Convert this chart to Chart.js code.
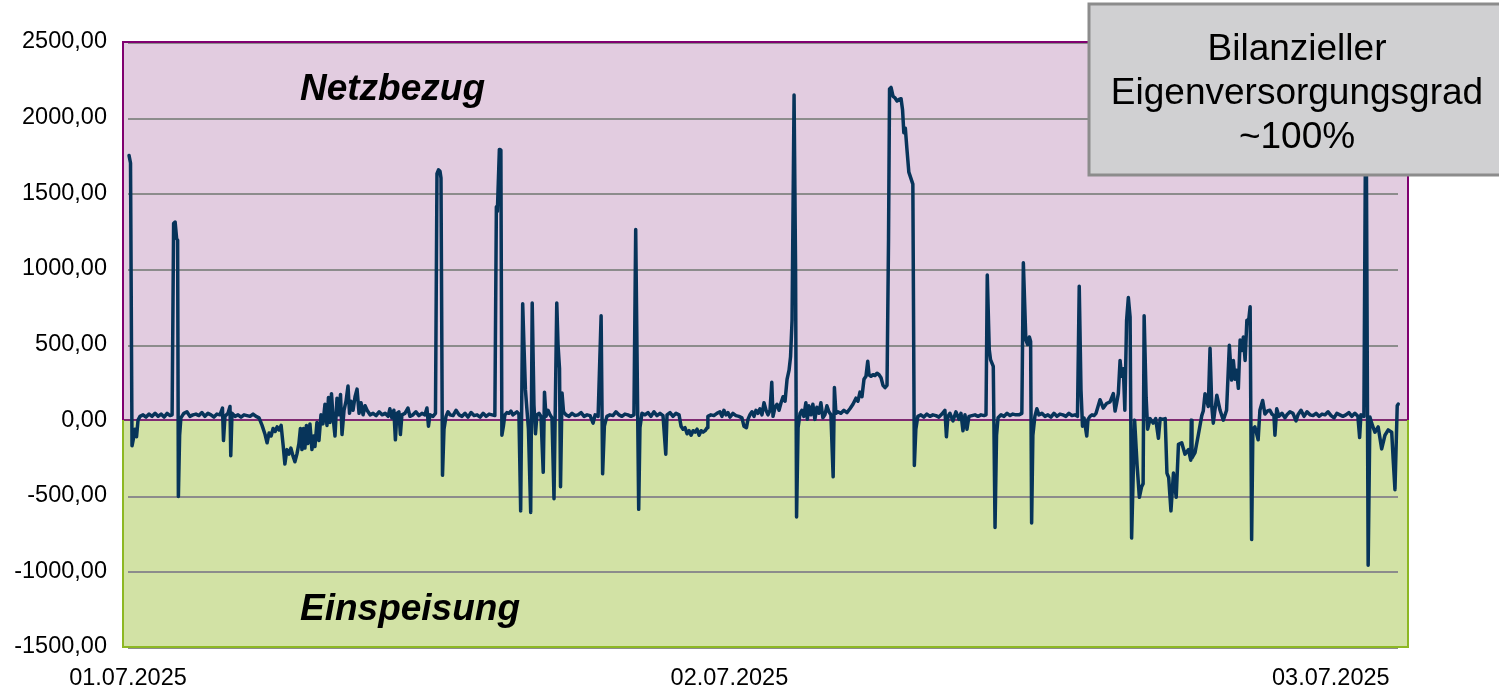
<!DOCTYPE html>
<html lang="de">
<head>
<meta charset="UTF-8">
<title>Netzbezug / Einspeisung</title>
<script src="https://cdn.jsdelivr.net/npm/chart.js"></script>
<style>
    html, body { margin: 0; padding: 0; background: #fff; }
    #wrap { position: relative; width: 1499px; height: 689px; }
</style>
</head>
<body>
<div id="wrap"><canvas id="chart" width="1499" height="689"></canvas></div>
<script>
// Stunden ab 01.07.2025 00:00 und Leistung am Netzanschlusspunkt (W)
const hours = [
    0.04, 0.10, 0.16, 0.22, 0.28, 0.34, 0.40, 0.48, 0.60, 0.72, 0.84, 0.96, 1.08, 1.20, 1.32, 1.44, 1.56, 1.68, 1.76, 1.82,
    1.88, 1.94, 1.98, 2.01, 2.06, 2.11, 2.23, 2.35, 2.47, 2.59, 2.71, 2.83, 2.95, 3.07, 3.19, 3.31, 3.43, 3.55, 3.67, 3.77,
    3.81, 3.87, 3.99, 4.07, 4.10, 4.15, 4.27, 4.39, 4.51, 4.63, 4.75, 4.87, 4.99, 5.11, 5.23, 5.35, 5.47, 5.55, 5.63, 5.71,
    5.79, 5.87, 5.95, 6.03, 6.11, 6.19, 6.26, 6.34, 6.42, 6.50, 6.58, 6.66, 6.74, 6.82, 6.88, 6.94, 7.00, 7.06, 7.12, 7.18,
    7.26, 7.34, 7.40, 7.46, 7.54, 7.62, 7.70, 7.78, 7.86, 7.94, 8.00, 8.06, 8.12, 8.18, 8.26, 8.34, 8.42, 8.48, 8.54, 8.62,
    8.70, 8.78, 8.84, 8.90, 8.98, 9.06, 9.14, 9.22, 9.30, 9.38, 9.46, 9.54, 9.66, 9.78, 9.90, 10.02, 10.14, 10.26, 10.38, 10.45,
    10.53, 10.61, 10.67, 10.73, 10.81, 10.87, 10.93, 11.05, 11.17, 11.25, 11.37, 11.49, 11.61, 11.73, 11.85, 11.93, 11.99, 12.05, 12.17, 12.27,
    12.33, 12.39, 12.45, 12.49, 12.55, 12.61, 12.69, 12.77, 12.85, 12.97, 13.09, 13.21, 13.33, 13.45, 13.57, 13.69, 13.81, 13.93, 14.05, 14.17,
    14.29, 14.41, 14.53, 14.64, 14.70, 14.74, 14.82, 14.88, 14.92, 14.98, 15.04, 15.12, 15.20, 15.28, 15.36, 15.44, 15.52, 15.60, 15.67, 15.75,
    15.80, 15.86, 15.92, 15.98, 16.07, 16.13, 16.20, 16.26, 16.32, 16.40, 16.48, 16.57, 16.62, 16.68, 16.76, 16.84, 16.92, 17.00, 17.11, 17.16,
    17.22, 17.26, 17.32, 17.38, 17.48, 17.60, 17.72, 17.84, 17.96, 18.08, 18.20, 18.32, 18.44, 18.56, 18.64, 18.76, 18.88, 18.94, 19.01, 19.11,
    19.23, 19.35, 19.47, 19.59, 19.71, 19.83, 19.95, 20.07, 20.19, 20.26, 20.38, 20.43, 20.51, 20.63, 20.75, 20.87, 20.99, 21.11, 21.23, 21.35,
    21.46, 21.51, 21.63, 21.75, 21.87, 21.99, 22.07, 22.15, 22.23, 22.31, 22.39, 22.47, 22.55, 22.63, 22.71, 22.79, 22.87, 22.95, 23.03, 23.11,
    23.14, 23.26, 23.38, 23.50, 23.62, 23.70, 23.78, 23.86, 23.94, 24.02, 24.14, 24.26, 24.38, 24.50, 24.58, 24.68, 24.74, 24.82, 24.90, 24.98,
    25.06, 25.14, 25.22, 25.30, 25.38, 25.46, 25.54, 25.62, 25.69, 25.74, 25.82, 25.90, 25.98, 26.06, 26.14, 26.22, 26.30, 26.38, 26.44, 26.50,
    26.58, 26.64, 26.68, 26.74, 26.82, 26.89, 26.97, 27.05, 27.11, 27.17, 27.25, 27.33, 27.41, 27.49, 27.57, 27.65, 27.73, 27.81, 27.89, 27.97,
    28.05, 28.14, 28.19, 28.25, 28.33, 28.45, 28.57, 28.69, 28.81, 28.93, 29.05, 29.13, 29.21, 29.29, 29.37, 29.45, 29.52, 29.57, 29.65, 29.73,
    29.81, 29.89, 29.97, 30.05, 30.13, 30.21, 30.29, 30.35, 30.39, 30.45, 30.53, 30.61, 30.69, 30.77, 30.85, 30.91, 30.96, 31.02, 31.08, 31.16,
    31.24, 31.32, 31.38, 31.44, 31.52, 31.64, 31.76, 31.88, 32.00, 32.12, 32.24, 32.36, 32.48, 32.60, 32.66, 32.72, 32.80, 32.92, 33.04, 33.16,
    33.24, 33.32, 33.40, 33.48, 33.56, 33.68, 33.80, 33.92, 34.04, 34.16, 34.24, 34.29, 34.37, 34.42, 34.53, 34.60, 34.66, 34.72, 34.84, 34.96,
    35.08, 35.20, 35.31, 35.43, 35.55, 35.67, 35.73, 35.83, 35.90, 35.97, 36.02, 36.06, 36.11, 36.19, 36.27, 36.35, 36.47, 36.59, 36.71, 36.83,
    36.95, 37.07, 37.19, 37.31, 37.43, 37.55, 37.67, 37.79, 37.89, 37.96, 38.03, 38.09, 38.15, 38.26, 38.31, 38.39, 38.47, 38.55, 38.63, 38.71,
    38.79, 38.92, 39.05, 39.19, 39.32, 39.39, 39.45, 39.52, 39.59, 39.65, 39.72, 39.78, 39.85, 39.92, 39.99, 40.05, 40.17, 40.27, 40.36, 40.45,
    40.51, 40.55, 40.63, 40.69, 40.79, 40.91, 41.01, 41.12, 41.19, 41.29, 41.39, 41.46, 41.53, 41.62, 41.72, 41.83, 41.92, 42.05, 42.18, 42.32,
    42.41, 42.43, 42.46, 42.58, 42.71, 42.85, 42.91, 42.98, 43.11, 43.18, 43.25, 43.31, 43.45, 43.58, 43.71, 43.84, 43.95, 44.04, 44.11, 44.18,
    44.24, 44.31, 44.38, 44.45, 44.51, 44.58, 44.65, 44.71, 44.78, 44.84, 44.89, 44.97, 45.10, 45.17, 45.28, 45.37, 45.47, 45.57, 45.65, 45.73,
    45.77, 45.84, 45.93, 46.05, 46.17, 46.25, 46.37, 46.49, 46.61, 46.69, 46.81, 46.93, 47.05, 47.17, 47.29, 47.41, 47.53, 47.65, 47.77, 47.89,
    48.01, 48.13, 48.24, 48.36, 48.48, 48.60, 48.72, 48.84, 48.96, 49.08, 49.15, 49.20, 49.32, 49.38, 49.42, 49.49, 49.56, 49.63, 49.76, 49.89,
    50.03, 50.16, 50.29, 50.43, 50.49, 50.56, 50.65, 50.69
];
const watts = [
    1750, 1700, -170, -120, -60, -110, 0, 25, 35, 20, 40, 25, 45, 25, 40, 20, 45, 30, 35, 1300,
    1310, 1200, 1190, -505, -100, 15, 45, 55, 25, 35, 40, 30, 50, 25, 45, 35, 20, 40, 35, 80,
    -135, 25, 45, 90, -235, 45, 25, 35, 20, 35, 30, 25, 40, 25, 15, -35, -95, -150, -85, -105,
    -55, -75, -45, -65, -35, -165, -290, -195, -225, -185, -235, -275, -225, -155, -55, -195, -55, -185, -35, -155,
    -25, -195, -105, -175, -15, -135, 35, -25, 105, -35, 150, -15, 175, 25, -105, 145, 35, 170, -95, 65,
    125, 225, 45, 125, 65, 155, 205, 45, 115, 35, 95, 65, 35, 45, 30, 55, 35, 45, 25, 75,
    15, 65, -130, 45, 55, -95, 35, 45, 80, 25, 35, 55, 30, 45, 35, 80, -40, 35, 25, 45,
    1630, 1655, 1645, 1600, -365, -60, 25, 55, 35, 30, 65, 35, 25, 45, 20, 50, 30, 35, 20, 45,
    25, 40, 35, 30, 1410, 1380, 1790, 1785, -100, -40, 35, 50, 45, 60, 35, 45, 55, 40, -600, 770,
    500, 200, 70, -60, -610, 775, 100, -90, 35, 45, 25, -345, 185, 25, 65, 35, 15, -520, 775, 500,
    340, -440, 180, 55, 35, 25, 45, 30, 35, 50, 25, 35, 30, -20, 35, 25, 690, -355, -40, 25,
    35, 30, 55, 35, 25, 40, 35, 25, 35, 1260, -590, -50, 45, 35, 50, 25, 55, 30, 45, 30,
    -225, 35, 50, 25, 45, 35, -40, -60, -50, -90, -70, -100, -70, -80, -60, -100, -70, -80, -70, -50,
    25, 35, 30, 45, 55, 25, 65, 35, 50, 20, 45, 30, 25, 15, -40, -50, 5, 35, 55, 25,
    65, 45, 75, 35, 115, 65, 35, 65, 250, 25, 85, 105, 65, 115, 155, 125, 270, 330, 420, 660,
    2150, 1000, -640, -50, 45, 65, 25, 115, 5, 95, 35, 105, 5, 85, 45, 115, 15, 35, 95, 55,
    35, -375, 215, 45, 55, 45, 65, 50, 75, 105, 145, 125, 185, 155, 270, 290, 390, 300, 290, 300,
    295, 310, 300, 280, 230, 215, 230, 1200, 2190, 2200, 2140, 2130, 2110, 2120, 2125, 2050, 1900, 1930, 1800, 1640,
    1600, 1560, -300, -60, 25, 35, 20, 40, 25, 35, 30, 20, 40, 65, -110, 25, 45, -5, 55, 5,
    45, -70, 35, -60, 25, 30, 35, 25, 35, 30, 35, 960, 465, 400, 355, -710, -100, 15, 35, 25,
    45, 30, 40, 35, 35, 45, 1040, 530, 500, 550, 520, -680, -100, 25, 75, 35, 45, 25, 35, 20,
    45, 25, 40, 35, 25, 45, 30, 35, 25, 885, 200, -40, 15, -105, 5, 25, 35, 30, 45, 90,
    135, 80, 110, 120, 175, 60, 110, 175, 395, 290, 340, 65, 660, 810, 680, -780, 0, -300, -510, -440,
    -420, 690, 150, -60, 10, -20, 10, -120, 10, 5, 10, -350, -380, -600, -350, -510, -160, -150, -225, -195,
    -265, 0, -250, -215, -100, 30, 60, 175, 90, 475, 90, -20, 165, 65, 0, 65, 495, 265, 395, 270,
    330, 210, 530, 460, 550, 395, 660, 640, 750, -790, -60, -45, -130, 65, 130, 40, 60, 65, 40, 30,
    -100, 75, 25, 45, 15, 35, 55, 45, -5, 35, 65, 25, 55, 35, 30, 45, 25, 40, 35, 55,
    30, 15, 45, 35, 25, 35, 50, 25, 45, 25, -115, 35, 25, 1750, 1700, -960, 20, -20, -80, -45,
    -190, -100, -65, -80, -265, -460, 95, 106
];
const dayTicks = [0, 24, 48];
const dayLabels = ['01.07.2025', '02.07.2025', '03.07.2025'];
const yMin = -1500, yMax = 2500, yStep = 500;
const boxLines = ['Bilanzieller', 'Eigenversorgungsgrad', '~100%'];

const FONT = '"Liberation Sans", Arial, sans-serif';

// Hintergrundflaechen, Gitter, Rahmen und Beschriftungen
const zonePlugin = {
    id: 'zones',
    beforeDatasetsDraw(chart) {
        const {ctx, chartArea: a, scales: {y}} = chart;
        const y0 = Math.round(y.getPixelForValue(0));
        ctx.save();
        ctx.fillStyle = '#E2CCE0';
        ctx.fillRect(a.left, a.top, a.width, y0 - a.top);
        ctx.fillStyle = '#D2E2A5';
        ctx.fillRect(a.left, y0, a.width, a.bottom - y0);

        ctx.strokeStyle = '#8C8C8C';
        ctx.lineWidth = 2;
        y.ticks.forEach(t => {
            if (t.value === 0) return;
            const py = Math.round(y.getPixelForValue(t.value)) + 1;
            ctx.beginPath();
            ctx.moveTo(a.left + 5, py);
            ctx.lineTo(a.right - 10, py);
            ctx.stroke();
        });

        ctx.strokeStyle = '#7F2A72';
        ctx.beginPath();
        ctx.moveTo(a.left, y0);
        ctx.lineTo(a.right, y0);
        ctx.stroke();

        ctx.fillStyle = '#000';
        ctx.font = 'italic bold 37px ' + FONT;
        ctx.textAlign = 'left';
        ctx.textBaseline = 'alphabetic';
        ctx.fillText('Netzbezug', 300, 100);
        ctx.fillText('Einspeisung', 300, 620);
        ctx.restore();
    },
    afterDraw(chart) {
        const {ctx, chartArea: a, scales: {y}} = chart;
        const y0 = Math.round(y.getPixelForValue(0));
        ctx.save();
        ctx.lineWidth = 2;
        // Rahmen oben / Bezug
        ctx.strokeStyle = '#800070';
        ctx.beginPath();
        ctx.moveTo(a.left, y0);
        ctx.lineTo(a.left, a.top);
        ctx.lineTo(a.right, a.top);
        ctx.lineTo(a.right, y0);
        ctx.stroke();
        // Rahmen unten / Einspeisung
        ctx.strokeStyle = '#8DB823';
        ctx.beginPath();
        ctx.moveTo(a.left, y0);
        ctx.lineTo(a.left, a.bottom);
        ctx.lineTo(a.right, a.bottom);
        ctx.lineTo(a.right, y0);
        ctx.stroke();

        // Infobox
        ctx.fillStyle = '#D0D0D2';
        ctx.fillRect(1089, 4, 430, 171);
        ctx.strokeStyle = '#8C8C8C';
        ctx.lineWidth = 3;
        ctx.strokeRect(1089, 4, 430, 171);
        ctx.fillStyle = '#000';
        ctx.font = '37px ' + FONT;
        ctx.textAlign = 'center';
        ctx.textBaseline = 'alphabetic';
        boxLines.forEach((t, i) => ctx.fillText(t, 1297, 60 + i * 44));
        ctx.restore();
    }
};

new Chart(document.getElementById('chart'), {
    type: 'line',
    data: {
        datasets: [{
            data: hours.map((h, i) => ({x: h, y: watts[i]})),
            borderColor: '#07345A',
            borderWidth: 3.5,
            borderJoinStyle: 'round',
            borderCapStyle: 'round',
            pointRadius: 0,
            tension: 0,
            fill: false
        }]
    },
    options: {
        responsive: false,
        animation: false,
        layout: {padding: {left: 0, top: 42, right: 91, bottom: 0}},
        plugins: {legend: {display: false}, tooltip: {enabled: false}},
        scales: {
            x: {
                type: 'linear',
                min: -0.2,
                max: 51.08,
                grid: {display: false, drawTicks: false},
                border: {display: false},
                afterBuildTicks: s => { s.ticks = dayTicks.map(v => ({value: v})); },
                afterFit: s => { s.height = 42; },
                ticks: {
                    autoSkip: false,
                    maxRotation: 0,
                    padding: 17,
                    color: '#000',
                    font: {family: FONT, size: 23.5},
                    callback: v => dayLabels[dayTicks.indexOf(v)]
                }
            },
            y: {
                min: yMin,
                max: yMax,
                grid: {display: false, drawTicks: false},
                border: {display: false},
                afterFit: s => { s.width = 123; },
                ticks: {
                    stepSize: yStep,
                    padding: 16,
                    color: '#000',
                    font: {family: FONT, size: 23.5},
                    callback: v => v.toFixed(2).replace('.', ',')
                }
            }
        }
    },
    plugins: [zonePlugin]
});
</script>
</body>
</html>
